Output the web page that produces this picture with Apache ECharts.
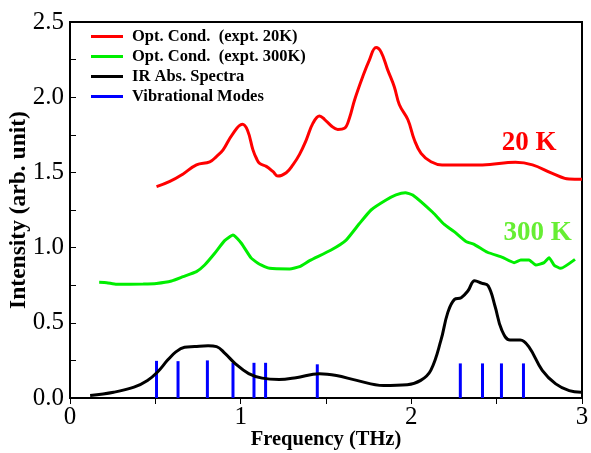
<!DOCTYPE html>
<html><head><meta charset="utf-8">
<script src="https://cdn.jsdelivr.net/npm/echarts@6/dist/echarts.min.js"></script>
<style>html,body{margin:0;padding:0;background:#fff}#c{width:591px;height:453px}</style>
</head><body><div id="c"></div>
<script>
// Data (frequency THz, intensity)
var red20K = [[0.507,1.405],[0.585,1.44],[0.663,1.49],[0.741,1.55],[0.819,1.57],[0.858,1.605],[0.897,1.65],[0.95,1.75],[1.01,1.82],[1.04,1.78],[1.072,1.65],[1.092,1.594],[1.111,1.56],[1.15,1.54],[1.19,1.505],[1.218,1.476],[1.267,1.498],[1.306,1.55],[1.345,1.62],[1.384,1.715],[1.423,1.826],[1.462,1.875],[1.491,1.853],[1.53,1.81],[1.569,1.786],[1.608,1.793],[1.637,1.86],[1.667,1.98],[1.715,2.136],[1.754,2.247],[1.793,2.33],[1.823,2.30],[1.862,2.18],[1.90,2.07],[1.93,1.95],[1.98,1.85],[2.018,1.715],[2.057,1.627],[2.115,1.571],[2.18,1.55],[2.417,1.55],[2.61,1.567],[2.71,1.55],[2.826,1.494],[2.924,1.456],[3.0,1.454]];
var green300K = [[0.171,0.769],[0.215,0.767],[0.273,0.756],[0.429,0.758],[0.507,0.762],[0.595,0.778],[0.663,0.807],[0.741,0.84],[0.789,0.884],[0.848,0.962],[0.906,1.046],[0.955,1.084],[1.004,1.029],[1.062,0.93],[1.111,0.889],[1.17,0.862],[1.287,0.858],[1.345,0.873],[1.404,0.913],[1.53,0.984],[1.618,1.05],[1.696,1.16],[1.764,1.25],[1.852,1.316],[1.91,1.35],[1.965,1.365],[2.008,1.35],[2.125,1.235],[2.193,1.154],[2.251,1.106],[2.32,1.04],[2.368,1.022],[2.446,0.969],[2.534,0.935],[2.602,0.90],[2.641,0.918],[2.69,0.918],[2.729,0.884],[2.778,0.90],[2.807,0.933],[2.836,0.884],[2.875,0.862],[2.959,0.922]];
var irAbs = [[0.118,0.016],[0.256,0.038],[0.375,0.072],[0.454,0.117],[0.513,0.173],[0.572,0.252],[0.622,0.308],[0.671,0.337],[0.73,0.342],[0.809,0.348],[0.859,0.342],[0.908,0.297],[0.968,0.229],[1.047,0.162],[1.126,0.132],[1.225,0.123],[1.324,0.135],[1.462,0.162],[1.561,0.15],[1.68,0.117],[1.837,0.083],[1.976,0.088],[2.055,0.117],[2.114,0.184],[2.174,0.386],[2.213,0.566],[2.253,0.656],[2.292,0.667],[2.332,0.713],[2.371,0.78],[2.411,0.764],[2.45,0.746],[2.49,0.612],[2.529,0.454],[2.578,0.386],[2.638,0.386],[2.688,0.342],[2.767,0.184],[2.846,0.094],[2.925,0.049],[2.994,0.038]];
var vibModes = [[0.507,0.247],[0.633,0.245],[0.805,0.25],[0.955,0.234],[1.078,0.234],[1.146,0.234],[1.449,0.224],[2.287,0.23],[2.417,0.23],[2.528,0.23],[2.657,0.23]];
var seriesNames = ['Opt. Cond.  (expt. 20K)','Opt. Cond.  (expt. 300K)','IR Abs. Spectra','Vibrational Modes'];
var xTicks = ['0','1','2','3'];
var yTicks = ['0.0','0.5','1.0','1.5','2.0','2.5'];
var annot20K = {text:'20 K', x:2.69, y:1.695};
var annot300K = {text:'300 K', x:2.74, y:1.10};

var serif = '"Liberation Serif","Times New Roman",serif';
var chart = echarts.init(document.getElementById('c'), null, {renderer:'canvas'});
function annot(a, color){
  return {silent:true, symbol:'circle', symbolSize:0, data:[{coord:[a.x,a.y], value:a.text}],
    label:{show:true, position:'inside', formatter:a.text, color:color, fontFamily:serif, fontWeight:'bold', fontSize:27}};
}
chart.setOption({
  animation:false,
  backgroundColor:'#fff',
  grid:{left:70, right:9, top:22, bottom:55, show:true, borderColor:'#000', borderWidth:2, backgroundColor:'transparent',
    containLabel:false, outerBoundsMode:'none'},
  legend:{
    left:86, top:23, orient:'vertical', itemGap:3, itemWidth:32, itemHeight:3, icon:'rect',
    data:seriesNames,
    textStyle:{fontFamily:serif, fontWeight:'bold', fontSize:16.5, color:'#000', padding:[0,0,0,4]}
  },
  xAxis:{type:'value', min:0, max:3, interval:1,
    name:'Frequency (THz)', nameLocation:'middle', nameGap:31, nameMoveOverlap:false,
    nameTextStyle:{fontFamily:serif, fontWeight:'bold', fontSize:20.5, color:'#000'},
    axisLine:{show:true, lineStyle:{color:'#000', width:2}},
    axisTick:{show:true, inside:false, length:6, lineStyle:{color:'#000'}},
    minorTick:{show:true, splitNumber:2, length:6, lineStyle:{color:'#000'}},
    splitLine:{show:false},
    axisLabel:{margin:7, fontFamily:serif, fontSize:25, color:'#000', formatter:function(v){return xTicks[Math.round(v)];}}
  },
  yAxis:{type:'value', min:0, max:2.5, interval:0.5,
    name:'Intensity (arb. unit)', nameLocation:'middle', nameGap:39, nameMoveOverlap:false,
    nameTextStyle:{fontFamily:serif, fontWeight:'bold', fontSize:23.5, color:'#000'},
    axisLine:{show:true, lineStyle:{color:'#000', width:2}},
    axisTick:{show:true, inside:true, length:6, lineStyle:{color:'#000'}},
    minorTick:{show:true, splitNumber:2, length:6, lineStyle:{color:'#000'}},
    splitLine:{show:false},
    axisLabel:{margin:6, fontFamily:serif, fontSize:25, color:'#000', formatter:function(v){return yTicks[Math.round(v*2)];}}
  },
  series:[
    {name:seriesNames[0], type:'line', data:red20K, smooth:0.4, showSymbol:false, symbol:'none',
      lineStyle:{color:'#ff0000', width:3}, itemStyle:{color:'#ff0000'}, markPoint:annot(annot20K,'#ff0000')},
    {name:seriesNames[1], type:'line', data:green300K, smooth:0.15, showSymbol:false, symbol:'none',
      lineStyle:{color:'#00ee00', width:3}, itemStyle:{color:'#00ee00'}, markPoint:annot(annot300K,'#66ee33')},
    {name:seriesNames[2], type:'line', data:irAbs, smooth:0.4, showSymbol:false, symbol:'none',
      lineStyle:{color:'#000', width:3}, itemStyle:{color:'#000'}},
    {name:seriesNames[3], type:'bar', data:vibModes, barWidth:3, itemStyle:{color:'#0000ff'}, z:1}
  ]
});
</script></body></html>
